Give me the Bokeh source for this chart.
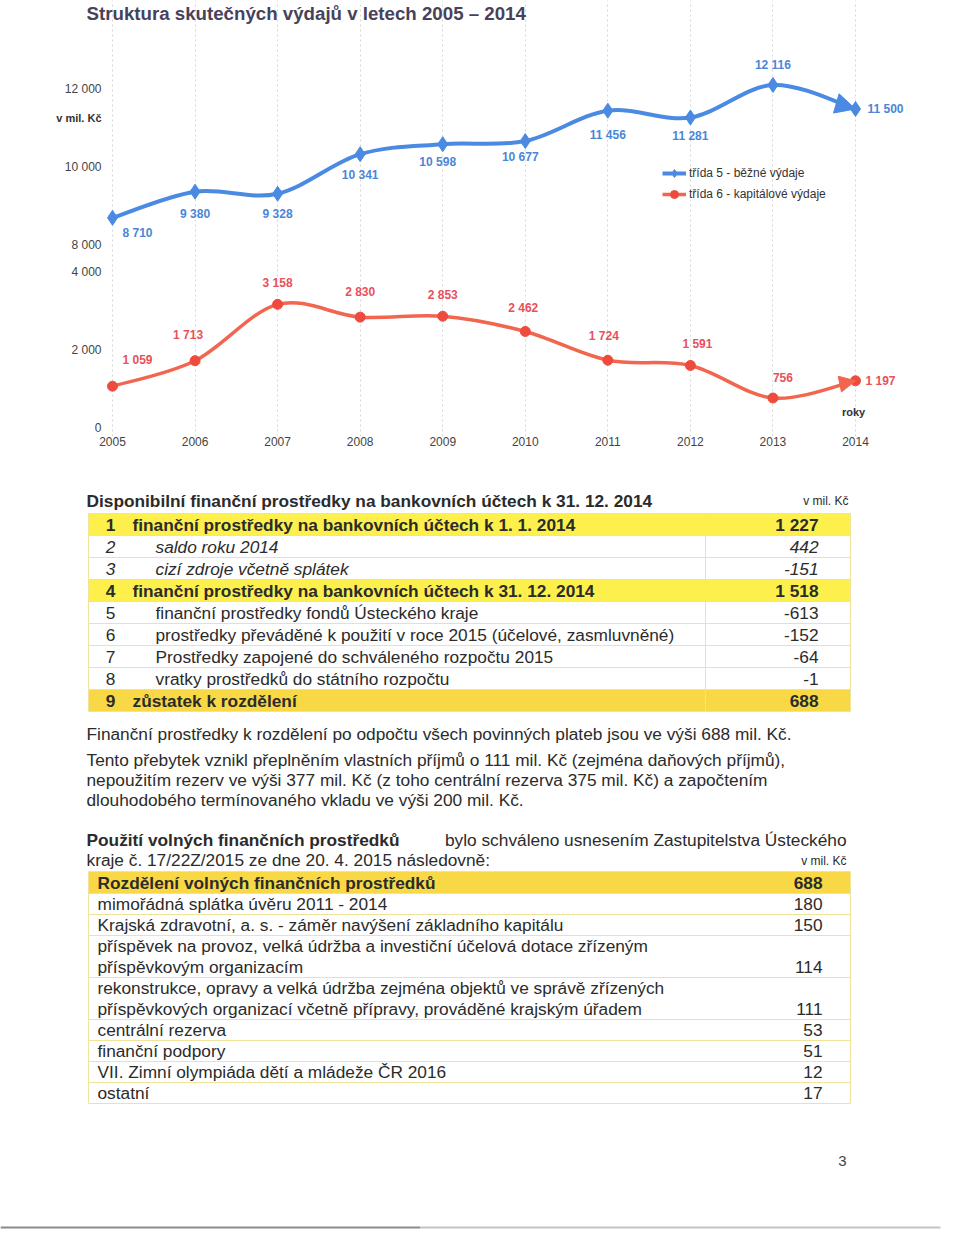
from bokeh.plotting import figure
from bokeh.models import (ColumnDataSource, Range1d, FixedTicker, Label, Legend,
                          LegendItem, Arrow, NormalHead)
from bokeh.core.properties import value
from bokeh.embed import file_html
from bokeh.resources import INLINE

# ---------------- data ----------------
years = [2005, 2006, 2007, 2008, 2009, 2010, 2011, 2012, 2013, 2014]
current_exp = [8710, 9380, 9328, 10341, 10598, 10677, 11456, 11281, 12116, 11500]
capital_exp = [1059, 1713, 3158, 2830, 2853, 2462, 1724, 1591, 756, 1197]
series_names = ["třída 5 - běžné výdaje", "třída 6 - kapitálové výdaje"]
y_tick_values = [0, 2000, 4000, 8000, 10000, 12000]

chart_title = "Struktura skutečných výdajů v letech 2005 – 2014"
unit_label = "v mil. Kč"
x_axis_name = "roky"

t1_title = "Disponibilní finanční prostředky na bankovních účtech k 31. 12. 2014"
t1_numbers = ["1", "2", "3", "4", "5", "6", "7", "8", "9"]
t1_labels = [
    "finanční prostředky na bankovních účtech k 1. 1. 2014",
    "saldo roku 2014",
    "cizí zdroje včetně splátek",
    "finanční prostředky na bankovních účtech k 31. 12. 2014",
    "finanční prostředky fondů Ústeckého kraje",
    "prostředky převáděné k použití v roce 2015 (účelové, zasmluvněné)",
    "Prostředky zapojené do schváleného rozpočtu 2015",
    "vratky prostředků do státního rozpočtu",
    "zůstatek k rozdělení",
]
t1_values = [1227, 442, -151, 1518, -613, -152, -64, -1, 688]

paragraphs = [
    "Finanční prostředky k rozdělení po odpočtu všech povinných plateb jsou ve výši 688 mil. Kč.",
    "Tento přebytek vznikl přeplněním vlastních příjmů o 111 mil. Kč (zejména daňových příjmů),",
    "nepoužitím rezerv ve výši 377 mil. Kč (z toho centrální rezerva 375 mil. Kč) a započtením",
    "dlouhodobého termínovaného vkladu ve výši 200 mil. Kč.",
]
usage_bold = "Použití volných finančních prostředků"
usage_rest = "bylo schváleno usnesením Zastupitelstva Ústeckého"
usage_line2 = "kraje č. 17/22Z/2015 ze dne 20. 4. 2015 následovně:"

t2_header = "Rozdělení volných finančních prostředků"
t2_total = 688
t2_labels = [
    ["mimořádná splátka úvěru 2011 - 2014"],
    ["Krajská zdravotní, a. s. - záměr navýšení základního kapitálu"],
    ["příspěvek na provoz, velká údržba a investiční účelová dotace zřízeným",
     "příspěvkovým organizacím"],
    ["rekonstrukce, opravy a velká údržba zejména objektů ve správě zřízených",
     "příspěvkových organizací včetně přípravy, prováděné krajským úřadem"],
    ["centrální rezerva"],
    ["finanční podpory"],
    ["VII. Zimní olympiáda dětí a mládeže ČR 2016"],
    ["ostatní"],
]
t2_values = [180, 150, 114, 111, 53, 51, 12, 17]
page_number = "3"

# ---------------- helpers ----------------
BREAK_AT = 4000
BREAK_SHIFT = 3333


def axis_pos(v):
    return v if v <= BREAK_AT else v - BREAK_SHIFT


def fmt(v):
    return f"{v:,}".replace(",", " ")


def bezier_parts(xs, ys):
    n = len(xs)
    out = dict(x0=[], y0=[], x1=[], y1=[], cx0=[], cy0=[], cx1=[], cy1=[])
    for i in range(n - 1):
        a = max(i - 1, 0)
        b = min(i + 2, n - 1)
        out["x0"].append(xs[i]); out["y0"].append(ys[i])
        out["x1"].append(xs[i + 1]); out["y1"].append(ys[i + 1])
        out["cx0"].append(xs[i] + (xs[i + 1] - xs[a]) / 6)
        out["cy0"].append(ys[i] + (ys[i + 1] - ys[a]) / 6)
        out["cx1"].append(xs[i + 1] - (xs[b] - xs[i]) / 6)
        out["cy1"].append(ys[i + 1] - (ys[b] - ys[i]) / 6)
    return out


FONT = "Liberation Sans"
BLUE = "#4a8ae2"
BLUE_TXT = "#4a86d8"
RED = "#f2664f"
RED_MK = "#ee4b3e"
RED_TXT = "#e9505c"
DARK = "#2b2b2b"
BODY = "17.3px"

# ---------------- chart ----------------
PX_PER_YEAR = 82.556
PX_PER_UNIT = 0.039
X0 = 2005 - 112 / PX_PER_YEAR
X1 = 2005 + (960 - 112) / PX_PER_YEAR
FRAME_BOTTOM = 436          # canvas px; value 0 sits at canvas y 427
ch = figure(width=960, height=468, output_backend="svg", toolbar_location=None,
            x_range=Range1d(X0, X1),
            y_range=Range1d(-(FRAME_BOTTOM - 427) / PX_PER_UNIT, 427 / PX_PER_UNIT),
            y_axis_location=None, min_border_left=0, min_border_right=0,
            min_border_top=0, min_border_bottom=468 - FRAME_BOTTOM)
ch.outline_line_color = None
ch.background_fill_color = "white"
ch.ygrid.visible = False
ch.xgrid.grid_line_color = "#d6d6d6"
ch.xgrid.grid_line_dash = "2 3"
ch.xaxis.ticker = FixedTicker(ticks=years)
ch.xaxis.axis_line_color = None
ch.xaxis.major_tick_line_color = None
ch.xaxis.minor_tick_line_color = None
ch.xaxis.major_label_text_font = FONT
ch.xaxis.major_label_text_font_size = "12px"
ch.xaxis.major_label_text_color = "#444444"
ch.xaxis.major_label_standoff = -6

# broken value axis: tick labels placed through the y scale
ch.text(x=[X0 + 101 / PX_PER_YEAR] * len(y_tick_values),
        y=[axis_pos(v) for v in y_tick_values], text=[fmt(v) for v in y_tick_values],
        text_align="right", text_baseline="middle", text_font=value(FONT),
        text_font_size="12px", text_color="#444444")

blue_y = [axis_pos(v) for v in current_exp]
red_y = [axis_pos(v) for v in capital_exp]

bparts = bezier_parts(years, blue_y)
rparts = bezier_parts(years, red_y)
blue_curve = ch.bezier(x0="x0", y0="y0", x1="x1", y1="y1", cx0="cx0", cy0="cy0",
                       cx1="cx1", cy1="cy1", source=ColumnDataSource(bparts),
                       line_color=BLUE, line_width=4)
red_curve = ch.bezier(x0="x0", y0="y0", x1="x1", y1="y1", cx0="cx0", cy0="cy0",
                      cx1="cx1", cy1="cy1", source=ColumnDataSource(rparts),
                      line_color=RED, line_width=3.5)

blue_pts = ch.scatter(years, blue_y, marker="diamond", size=15, fill_color=BLUE,
                      line_color=BLUE)
red_pts = ch.scatter(years, red_y, marker="circle", size=10, fill_color=RED_MK,
                     line_color=RED_MK)

for parts, col, sz in ((bparts, BLUE, 20), (rparts, RED, 16)):
    ch.add_layout(Arrow(end=NormalHead(size=sz, fill_color=col, line_color=col),
                        x_start=parts["cx1"][-1], y_start=parts["cy1"][-1],
                        x_end=parts["x1"][-1], y_end=parts["y1"][-1],
                        line_alpha=0))

blue_dx = [25, 0, 0, 0, -5, -5, 0, 0, 0, 30]
blue_dy = [15, 22, 20, 21, 18, 16, 24, 18, -20, 0]
red_dx = [25, -7, 0, 0, 0, -2, -4, 7, 10, 25]
red_dy = [-26, -26, -21, -25, -21, -23, -24, -21, -21, 0]

ch.text(x=years, y=blue_y, text=[fmt(v) for v in current_exp], x_offset=blue_dx,
        y_offset=blue_dy, text_align="center", text_baseline="middle",
        text_font=value(FONT), text_font_size="12px", text_font_style="bold",
        text_color=BLUE_TXT)
ch.text(x=years, y=red_y, text=[fmt(v) for v in capital_exp], x_offset=red_dx,
        y_offset=red_dy, text_align="center", text_baseline="middle",
        text_font=value(FONT), text_font_size="12px", text_font_style="bold",
        text_color=RED_TXT)

legend = Legend(items=[LegendItem(label=series_names[0], renderers=[blue_curve, blue_pts]),
                       LegendItem(label=series_names[1], renderers=[red_curve, red_pts])],
                location=(662, FRAME_BOTTOM - 204), border_line_color=None,
                background_fill_alpha=0,
                label_text_font=FONT, label_text_font_size="12px",
                label_text_color="#333333", glyph_width=24, glyph_height=20,
                label_height=20, spacing=1, padding=0, margin=0, label_standoff=3)
ch.add_layout(legend)

ch.add_layout(Label(x=86, y=FRAME_BOTTOM - 13, x_units="screen", y_units="screen",
                    text=chart_title, text_font=FONT, text_font_size="18.7px",
                    text_font_style="bold", text_color="#47425a",
                    text_baseline="middle", text_align="left"))
ch.add_layout(Label(x=101, y=FRAME_BOTTOM - 117, x_units="screen", y_units="screen",
                    text=unit_label, text_font=FONT, text_font_size="11px",
                    text_font_style="bold", text_color="#333333",
                    text_baseline="middle", text_align="right"))
ch.add_layout(Label(x=853, y=FRAME_BOTTOM - 411, x_units="screen", y_units="screen",
                    text=x_axis_name, text_font=FONT, text_font_size="11px",
                    text_font_style="bold", text_color="#333333",
                    text_baseline="middle", text_align="center"))

# ---------------- page (tables and text) ----------------
pg = figure(width=960, height=769, output_backend="svg", toolbar_location=None,
            x_range=Range1d(0, 960), y_range=Range1d(1237, 468),
            x_axis_type=None, y_axis_type=None, min_border=0)
pg.outline_line_color = None
pg.grid.visible = False

LINE = "#f1e39a"
YEL1 = "#fdf04c"
YEL2 = "#f9d846"


def txt(xs, ys, texts, size=BODY, style="normal", align="left", color=DARK):
    pg.text(x=xs, y=ys, text=texts, text_font=value(FONT), text_font_size=size,
            text_font_style=style, text_color=color, text_baseline="middle",
            text_align=align)


# table 1
T1_TOP, T1_H, T1_L, T1_R, T1_DIV = 513, 22, 88, 850, 705
n1 = len(t1_labels)
bold_rows = [0, 3, 8]
italic_rows = [1, 2]
plain_rows = [4, 5, 6, 7]
tops1 = [T1_TOP + i * T1_H for i in range(n1)]
pg.quad(left=[T1_L] * 3, right=[T1_R] * 3, top=[tops1[i] for i in bold_rows],
        bottom=[tops1[i] + T1_H for i in bold_rows], fill_color=[YEL1, YEL1, YEL2],
        line_color=None)
pg.segment(x0=[T1_L] * (n1 + 1), x1=[T1_R] * (n1 + 1),
           y0=[T1_TOP + i * T1_H for i in range(n1 + 1)],
           y1=[T1_TOP + i * T1_H for i in range(n1 + 1)], line_color=LINE, line_width=1)
pg.segment(x0=[T1_L, T1_R, T1_DIV], x1=[T1_L, T1_R, T1_DIV],
           y0=[T1_TOP] * 3, y1=[T1_TOP + n1 * T1_H] * 3, line_color=LINE, line_width=1)

txt([86], [500], [t1_title], style="bold")
txt([848], [500], [unit_label], size="12px", align="right")

cy1 = [t + T1_H / 2 for t in tops1]
for rows, style, lx in ((bold_rows, "bold", 132), (italic_rows, "italic", 155),
                        (plain_rows, "normal", 155)):
    ys = [cy1[i] for i in rows]
    txt([110] * len(rows), ys, [t1_numbers[i] for i in rows], style=style, align="center")
    txt([lx] * len(rows), ys, [t1_labels[i] for i in rows], style=style)
    txt([818] * len(rows), ys, [fmt(t1_values[i]) for i in rows], style=style, align="right")

# paragraphs
txt([86] * 4, [733, 759, 779, 799], paragraphs)
txt([86], [839], [usage_bold], style="bold")
txt([846], [839], [usage_rest], align="right")
txt([86], [859], [usage_line2])
txt([846], [860], [unit_label], size="12px", align="right")

# table 2
T2_TOP, T2_HEAD, T2_LH, T2_L, T2_R = 871, 22, 21, 88, 850
row_tops = [T2_TOP, T2_TOP + T2_HEAD]
for lines in t2_labels:
    row_tops.append(row_tops[-1] + T2_LH * len(lines))
pg.quad(left=[T2_L], right=[T2_R], top=[T2_TOP], bottom=[T2_TOP + T2_HEAD],
        fill_color=YEL2, line_color=None)
pg.segment(x0=[T2_L] * len(row_tops), x1=[T2_R] * len(row_tops), y0=row_tops, y1=row_tops,
           line_color=LINE, line_width=1)
pg.segment(x0=[T2_L, T2_R], x1=[T2_L, T2_R], y0=[T2_TOP] * 2, y1=[row_tops[-1]] * 2,
           line_color=LINE, line_width=1)
txt([97], [T2_TOP + T2_HEAD / 2], [t2_header], style="bold")
txt([822], [T2_TOP + T2_HEAD / 2], [fmt(t2_total)], style="bold", align="right")
lx, ly, vy = [], [], []
for i, lines in enumerate(t2_labels):
    for j, ln in enumerate(lines):
        lx.append(ln)
        ly.append(row_tops[i + 1] + T2_LH * j + T2_LH / 2)
    vy.append(row_tops[i + 1] + T2_LH * (len(lines) - 1) + T2_LH / 2)
txt([97] * len(lx), ly, lx)
txt([822] * len(vy), vy, [fmt(v) for v in t2_values], align="right")

# page number and bottom rule
txt([842], [1160], [page_number], size="15px", align="center", color="#444444")
pg.segment(x0=[0, 420], x1=[420, 940], y0=[1227, 1227], y1=[1227, 1227],
           line_color=["#8a8a8a", "#c4c4c4"], line_width=2)

open("out.html", "w").write(file_html([ch, pg], INLINE))
